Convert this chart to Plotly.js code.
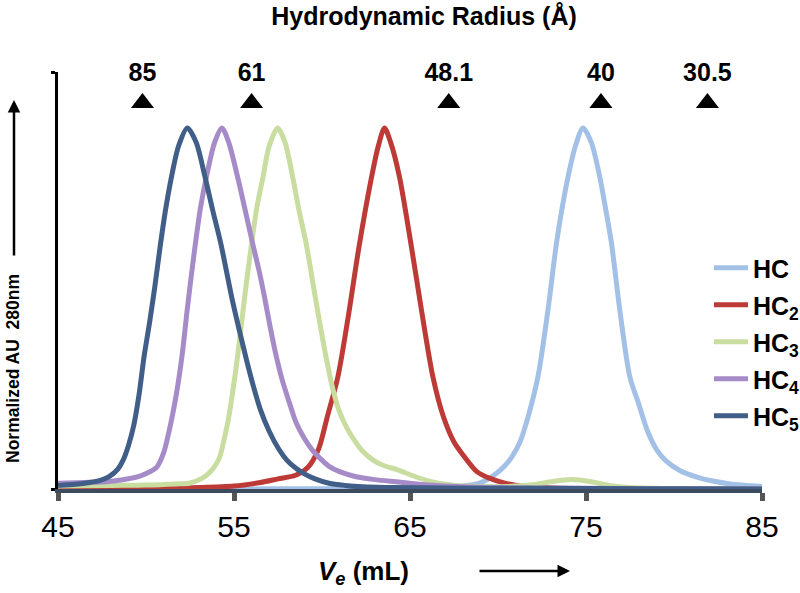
<!DOCTYPE html>
<html>
<head>
<meta charset="utf-8">
<script src="https://cdn.plot.ly/plotly-3.0.1.min.js"></script>
<style>html,body{margin:0;padding:0;background:#fff;}#chart{width:800px;height:593px;}</style>
</head>
<body>
<div id="chart"></div>
<script>
// ---- Data ----
const seriesNames = ['HC', 'HC<sub>2</sub>', 'HC<sub>3</sub>', 'HC<sub>4</sub>', 'HC<sub>5</sub>'];
const seriesColors = ['#a3c1e6', '#bd3a37', '#c8dd9f', '#a58cc8', '#405e88'];

const hcX  = [45, 55, 60, 65, 67.6, 68.95, 69.9, 70.4, 70.8, 71.25, 71.65, 72.27, 72.84, 73.32, 73.65, 73.98, 74.4, 74.83, 75.3, 75.78, 76.1, 76.45, 76.92, 77.49, 78.0, 78.5, 79.0, 79.5, 80.3, 81.3, 82.2, 83.2, 85];
const hcY  = [0, 0, 0.001, 0.002, 0.006, 0.016, 0.043, 0.065, 0.09, 0.13, 0.19, 0.311, 0.496, 0.68, 0.78, 0.865, 0.95, 1.0, 0.96, 0.865, 0.78, 0.68, 0.496, 0.311, 0.235, 0.16, 0.11, 0.08, 0.052, 0.033, 0.022, 0.014, 0.007];

const hc2X = [45, 50, 53, 55, 56.5, 57.5, 58.5, 59.2, 59.8, 60.3, 60.9, 61.5, 62.1, 62.8, 63.2, 63.55, 63.9, 64.4, 65.05, 65.65, 66.3, 66.9, 67.5, 68.0, 68.8, 69.5, 70.5, 71.5, 73, 76, 85];
const hc2Y = [0, 0.002, 0.004, 0.008, 0.018, 0.028, 0.038, 0.06, 0.11, 0.2, 0.31, 0.48, 0.67, 0.86, 0.95, 1.0, 0.96, 0.865, 0.68, 0.496, 0.311, 0.2, 0.13, 0.095, 0.048, 0.03, 0.015, 0.007, 0.003, 0.001, 0];

const hc3X = [45, 48, 50, 51.7, 52.45, 53.2, 53.6, 54.0, 54.2, 54.45, 54.65, 54.9, 55.2, 55.6, 56.0, 56.3, 56.65, 57.0, 57.48, 57.9, 58.33, 58.7, 59.1, 59.45, 59.8, 60.25, 60.6, 60.95, 61.4, 61.95, 62.3, 62.9, 63.5, 64.3, 65.2, 66.1, 67, 68, 69.5, 71, 72, 73, 74.2, 75.3, 76.3, 77.5, 80, 85];
const hc3Y = [0.008, 0.01, 0.011, 0.014, 0.016, 0.03, 0.045, 0.07, 0.09, 0.14, 0.185, 0.26, 0.366, 0.53, 0.68, 0.78, 0.865, 0.95, 1.0, 0.96, 0.865, 0.77, 0.68, 0.58, 0.48, 0.36, 0.28, 0.22, 0.17, 0.127, 0.105, 0.08, 0.065, 0.053, 0.036, 0.022, 0.013, 0.008, 0.006, 0.008, 0.012, 0.02, 0.026, 0.02, 0.01, 0.004, 0.001, 0];

const hc4X = [45, 46.5, 47.7, 48.6, 49.6, 50.1, 50.6, 51.0, 51.4, 51.75, 52.05, 52.35, 52.7, 53.1, 53.5, 53.9, 54.31, 54.7, 55.2, 55.6, 56.06, 56.4, 56.7, 57.05, 57.39, 57.75, 58.14, 58.52, 59.0, 59.5, 60.0, 60.42, 61.0, 61.94, 63.0, 64.2, 66.1, 68, 72, 78, 85];
const hc4Y = [0.016, 0.018, 0.02, 0.025, 0.035, 0.045, 0.06, 0.1, 0.18, 0.27, 0.37, 0.5, 0.64, 0.78, 0.88, 0.96, 1.0, 0.96, 0.865, 0.78, 0.68, 0.61, 0.54, 0.45, 0.37, 0.3, 0.24, 0.185, 0.14, 0.105, 0.08, 0.062, 0.048, 0.034, 0.026, 0.02, 0.011, 0.006, 0.003, 0.001, 0];

const hc5X = [45, 46, 46.8, 47.4, 47.9, 48.4, 48.7, 49.0, 49.3, 49.6, 49.9, 50.2, 50.5, 50.8, 51.1, 51.45, 51.85, 52.35, 52.85, 53.35, 53.8, 54.25, 54.9, 55.3, 55.7, 56.1, 56.5, 57.0, 57.55, 58.0, 58.5, 59.0, 59.6, 60.4, 61.3, 62.3, 64, 67, 72, 78, 85];
const hc5Y = [0.010, 0.013, 0.018, 0.024, 0.034, 0.055, 0.08, 0.12, 0.175, 0.26, 0.37, 0.46, 0.56, 0.67, 0.77, 0.865, 0.95, 1.0, 0.96, 0.865, 0.77, 0.68, 0.524, 0.44, 0.36, 0.285, 0.22, 0.16, 0.11, 0.08, 0.058, 0.042, 0.028, 0.016, 0.01, 0.006, 0.004, 0.003, 0.002, 0.001, 0];

// Hydrodynamic radius markers (Å) and their elution volumes (mL)
const radiusLabels = ['85', '61', '48.1', '40', '30.5'];
const radiusVe = [49.8, 56.0, 67.2, 75.85, 81.9];

// ---- Build chart ----
const FONT = 'Liberation Sans, Arial, sans-serif';
const xs = [hcX, hc2X, hc3X, hc4X, hc5X];
const ys = [hcY, hc2Y, hc3Y, hc4Y, hc5Y];

const traces = xs.map((x, i) => ({
  x: x, y: ys[i], type: 'scatter', mode: 'lines',
  name: seriesNames[i], legendgroup: 'g' + i,
  line: {color: seriesColors[i], width: 5, shape: 'spline', smoothing: 0.8},
  hoverinfo: 'skip'
}));

traces.push({
  x: radiusVe, y: radiusVe.map(() => 1.069), type: 'scatter', mode: 'markers',
  marker: {symbol: 'triangle-up', size: 20, color: '#000'},
  showlegend: false, cliponaxis: false, hoverinfo: 'skip'
});
traces.push({
  x: radiusVe, y: radiusVe.map(() => 1.147), type: 'scatter', mode: 'text',
  text: radiusLabels, textfont: {family: FONT, size: 25, color: '#000', weight: 'bold'},
  textposition: 'middle center',
  showlegend: false, cliponaxis: false, hoverinfo: 'skip'
});

const PL = 58, PW = 704, PB = 489, PH = 417;
const px = v => (v - PL) / PW;
const py = v => (PB - v) / PH;

const layout = {
  width: 800, height: 593,
  margin: {l: 58, r: 38, t: 72, b: 104, autoexpand: false},
  paper_bgcolor: '#fff', plot_bgcolor: '#fff',
  font: {family: FONT, color: '#000'},
  title: {text: '<b>Hydrodynamic Radius (Å)</b>', font: {family: FONT, size: 25, color: '#000'},
          x: 0.53, xref: 'container', xanchor: 'center', y: 0.972, yref: 'container', yanchor: 'middle'},
  xaxis: {
    range: [45, 85], tickvals: [45, 55, 65, 75, 85], ticktext: ['45', '55', '65', '75', '85'],
    showgrid: false, zeroline: false, showline: true, linecolor: '#3d4b5e', linewidth: 4,
    ticks: 'outside', ticklen: 8, tickwidth: 5, tickcolor: '#555',
    tickfont: {family: FONT, size: 30, color: '#000'}, automargin: false
  },
  yaxis: {
    range: [0, 1.155], tickvals: [0, 1.155], showticklabels: false,
    showgrid: false, zeroline: false, showline: true, linecolor: '#000', linewidth: 3,
    ticks: 'outside', ticklen: 4, tickwidth: 3, tickcolor: '#000', automargin: false
  },
  legend: {
    x: px(709), xanchor: 'left', y: py(245), yanchor: 'top',
    font: {family: FONT, size: 25, color: '#000', weight: 'bold'},
    bgcolor: 'rgba(0,0,0,0)', tracegroupgap: 1.5, itemwidth: 34
  },
  annotations: [
    {text: '<b><i>V</i><sub><i>e</i></sub> (mL)</b>', xref: 'paper', yref: 'paper',
     x: px(363), y: py(572), showarrow: false,
     font: {family: FONT, size: 26, color: '#000'}, xanchor: 'center', yanchor: 'middle'},
    {text: '<b>Normalized AU  280nm</b>', xref: 'paper', yref: 'paper',
     x: px(13), y: py(369), textangle: -90, showarrow: false,
     font: {family: FONT, size: 17.5, color: '#000'}, xanchor: 'center', yanchor: 'middle'},
    {text: '', xref: 'paper', yref: 'paper', x: px(14), y: py(100),
     showarrow: true, ax: 0, ay: 157, arrowhead: 2, arrowsize: 1, arrowwidth: 2.5, arrowcolor: '#000'},
    {text: '', xref: 'paper', yref: 'paper', x: px(570), y: py(571),
     showarrow: true, ax: -92, ay: 0, arrowhead: 2, arrowsize: 1, arrowwidth: 2.5, arrowcolor: '#000'}
  ],
  showlegend: true
};

Plotly.newPlot('chart', traces, layout, {displayModeBar: false, staticPlot: true});
</script>
</body>
</html>
